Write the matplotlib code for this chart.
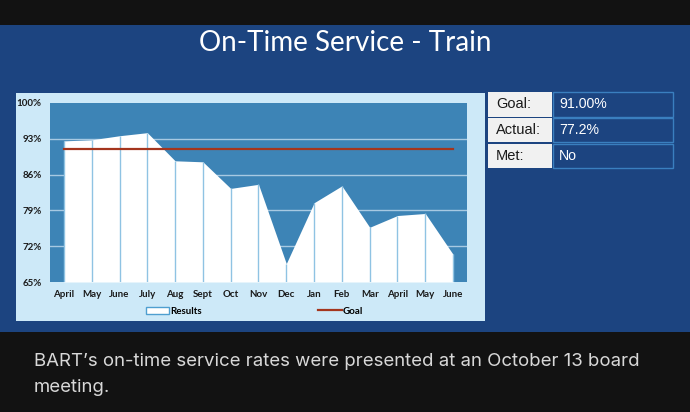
import matplotlib.pyplot as plt
from matplotlib.patches import Rectangle
from matplotlib.lines import Line2D

# monthly on-time results (percent)
months = ["April", "May", "June", "July", "Aug", "Sept", "Oct", "Nov",
          "Dec", "Jan", "Feb", "Mar", "April", "May", "June"]
results = [92.6, 92.8, 93.6, 94.2, 88.7, 88.5, 83.3, 84.1,
           68.6, 80.5, 83.8, 75.7, 78.0, 78.4, 70.4]
goal = 91.0
y_ticks = [65, 72, 79, 86, 93, 100]

table_labels = ["Goal:", "Actual:", "Met:"]
table_values = ["91.00%", "77.2%", "No"]

W, H = 690, 412


# helper: pixel box (from top-left) -> figure rectangle
def box(x0, y0, x1, y1, **kw):
    r = Rectangle((x0 / W, 1 - y1 / H), (x1 - x0) / W, (y1 - y0) / H,
                  transform=fig.transFigure, **kw)
    fig.add_artist(r)


fig = plt.figure(figsize=(6.9, 4.12), dpi=100)
fig.patch.set_facecolor("#121212")

# slide background and chart panel
box(0, 25, 690, 332, facecolor="#1c4480", edgecolor="none", zorder=0)
box(16, 93, 485, 321, facecolor="#cde9f8", edgecolor="none", zorder=0)

fig.text(345 / W, 1 - 43 / H, "On-Time Service - Train", color="white",
         fontsize=20, family="Lato", ha="center", va="center")

# main chart
ax = fig.add_axes([50 / W, 1 - 282 / H, 417 / W, 179 / H])
ax.set_facecolor("#3d84b6")
x = list(range(len(months)))
ax.fill_between(x, 65, results, color="white", zorder=2, lw=0)
ax.vlines(x, 65, results, color="#8fc3e3", lw=1, zorder=3)
ax.plot(x, [goal] * len(x), color="#a4351d", lw=1.6, zorder=4)
for t in y_ticks[1:-1]:
    ax.axhline(t, color="#a7c9e2", lw=1, zorder=1)

ax.set_xlim(-0.5, len(x) - 0.5)
ax.set_ylim(65, 100)
ax.set_yticks(y_ticks)
ax.set_yticklabels([f"{t}%" for t in y_ticks])
ax.set_xticks(x)
ax.set_xticklabels(months)
ax.tick_params(length=0, labelsize=7, colors="#1a1a1a", pad=6)
for lab in ax.get_xticklabels() + ax.get_yticklabels():
    lab.set_fontweight("bold")
    lab.set_family("Lato")
for s in ax.spines.values():
    s.set_visible(False)

handles = [Rectangle((0, 0), 1, 1, facecolor="white", edgecolor="#4f9fd0", lw=1),
           Line2D([], [], color="#a4351d", lw=1.6)]
leg = ax.legend(handles, ["Results", "Goal"], ncol=2, frameon=False,
                loc="upper center", bbox_to_anchor=(0.49, -0.09),
                columnspacing=12, handlelength=2.4, handletextpad=0.1,
                prop={"family": "Lato", "size": 7, "weight": "bold"})

# summary table
rows = [(92, 117), (118, 142), (144, 168)]
for (y0, y1), lab, val in zip(rows, table_labels, table_values):
    box(488, y0, 552, y1, facecolor="#f1f1f1", edgecolor="none", zorder=1)
    box(553, y0, 673, y1, facecolor="#1c4480", edgecolor="#3a7fbf", lw=1, zorder=1)
    ym = 1 - (y0 + y1) / 2 / H
    fig.text(496 / W, ym, lab, color="#1a1a1a", fontsize=10.5,
             family="Liberation Sans", va="center")
    fig.text(559 / W, ym, val, color="white", fontsize=10.2,
             family="Liberation Sans", va="center")

# caption below the slide
fig.text(34 / W, 1 - 361 / H,
         "BART\u2019s on-time service rates were presented at an October 13 board",
         color="#d8d8d8", fontsize=13.4, family="Inter", va="center")
fig.text(34 / W, 1 - 387 / H, "meeting.", color="#d8d8d8", fontsize=13.4,
         family="Inter", va="center")

fig.savefig("out.png", dpi=100, facecolor=fig.get_facecolor())
